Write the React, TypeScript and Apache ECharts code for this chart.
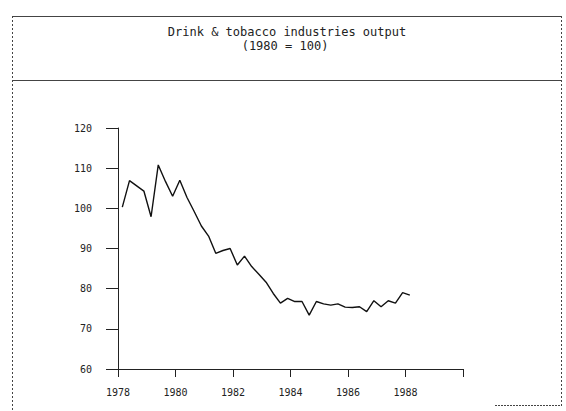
import React, { useEffect, useRef } from "react";
import * as echarts from "echarts";

const titleLines = ["Drink & tobacco industries output", "(1980 = 100)"];
const startYear = 1978;
const startQuarter = 1;
// Quarterly index values, 1978 Q1 .. 1988 Q1
const outputIndex = [
  100.3, 106.9, 105.6, 104.3, 97.9, 110.8, 106.7, 103.0, 107.0, 102.7,
  99.2, 95.6, 93.1, 88.8, 89.5, 90.0, 85.9, 88.1, 85.5, 83.6,
  81.6, 78.8, 76.4, 77.6, 76.8, 76.8, 73.4, 76.8, 76.2, 75.9,
  76.2, 75.4, 75.3, 75.5, 74.3, 77.0, 75.5, 77.0, 76.4, 79.0,
  78.4,
];
const xTicks = [1978, 1980, 1982, 1984, 1986, 1988, 1990];
const yTicks = [60, 70, 80, 90, 100, 110, 120];

export default function App() {
  const ref = useRef<HTMLDivElement>(null);
  useEffect(() => {
    if (!ref.current) return;
    const chart = echarts.init(ref.current, null, { renderer: "svg" });
    const data = outputIndex.map((v, i) => {
      const q = startQuarter - 1 + i;
      return [startYear + (q + 0.6) / 4, v];
    });
    const font = "'DejaVu Sans Mono', 'Liberation Mono', monospace";
    const border = "#444";
    chart.setOption({
      animation: false,
      backgroundColor: "#ffffff",
      grid: { left: 118, top: 128, right: 103, bottom: 42, containLabel: false },
      xAxis: {
        type: "value",
        min: xTicks[0],
        max: xTicks[xTicks.length - 1],
        interval: 2,
        axisLine: { show: true, lineStyle: { color: "#222", width: 1 } },
        axisTick: { show: true, length: 8, lineStyle: { color: "#222" } },
        axisLabel: {
          margin: 18,
          color: "#222",
          fontFamily: font,
          fontSize: 10,
          formatter: (v: number) => (v === xTicks[xTicks.length - 1] ? "" : String(v)),
        },
        splitLine: { show: false },
      },
      yAxis: {
        type: "value",
        min: yTicks[0],
        max: yTicks[yTicks.length - 1],
        interval: 10,
        axisLine: { show: true, lineStyle: { color: "#222", width: 1 } },
        axisTick: { show: true, length: 12, lineStyle: { color: "#222" } },
        axisLabel: {
          margin: 26,
          color: "#222",
          fontFamily: font,
          fontSize: 10,
        },
        splitLine: { show: false },
      },
      series: [
        {
          type: "line",
          data,
          showSymbol: false,
          symbol: "none",
          lineStyle: { color: "#111", width: 1.4 },
        },
      ],
      graphic: [
        { type: "line", shape: { x1: 12, y1: 16.5, x2: 562, y2: 16.5 }, style: { stroke: border, lineWidth: 1 } },
        { type: "line", shape: { x1: 12, y1: 80.5, x2: 562, y2: 80.5 }, style: { stroke: border, lineWidth: 1 } },
        { type: "line", shape: { x1: 12.5, y1: 16, x2: 12.5, y2: 411 }, style: { stroke: border, lineWidth: 1, lineDash: [2, 2] } },
        { type: "line", shape: { x1: 561.5, y1: 16, x2: 561.5, y2: 405 }, style: { stroke: border, lineWidth: 1, lineDash: [2, 2] } },
        { type: "line", shape: { x1: 495, y1: 405.5, x2: 562, y2: 405.5 }, style: { stroke: border, lineWidth: 1, lineDash: [2, 1] } },
        {
          type: "text",
          x: 287,
          y: 32,
          style: {
            text: titleLines[0],
            fontFamily: font,
            fontSize: 12,
            fill: "#222",
            align: "center",
            verticalAlign: "middle",
          },
        },
        {
          type: "text",
          x: 285,
          y: 46,
          style: {
            text: titleLines[1],
            fontFamily: font,
            fontSize: 12,
            fill: "#222",
            align: "center",
            verticalAlign: "middle",
          },
        },
      ],
    });
    return () => chart.dispose();
  }, []);
  return (
    <div
      ref={ref}
      style={{ position: "fixed", left: 0, top: 0, width: 566, height: 411, background: "#fff" }}
    />
  );
}
